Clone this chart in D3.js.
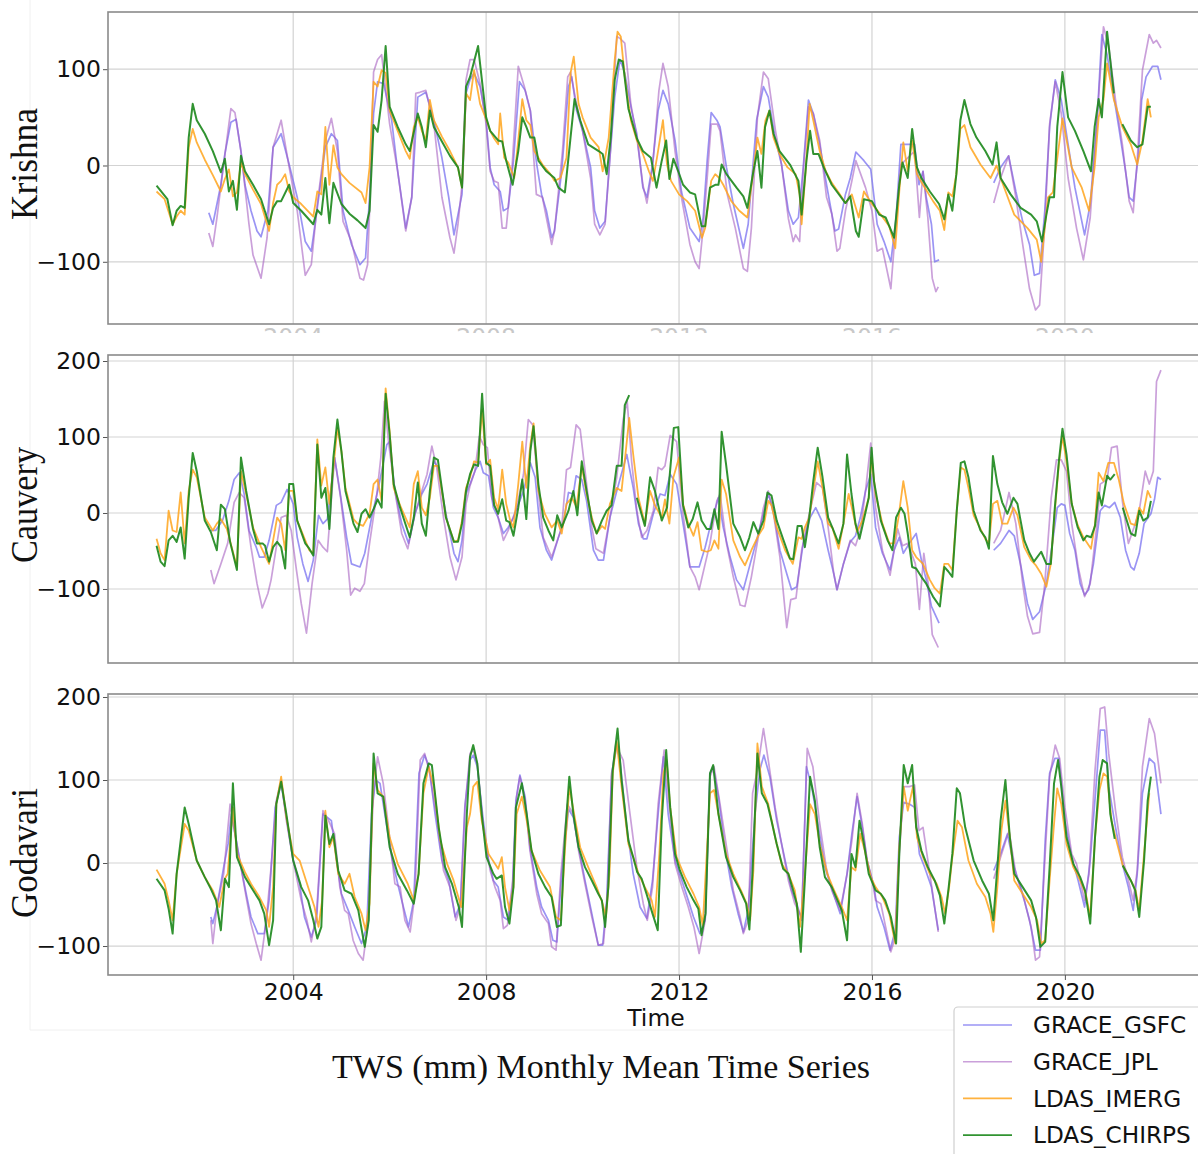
<!DOCTYPE html>
<html><head><meta charset="utf-8">
<script src="https://cdn.jsdelivr.net/npm/d3@7"></script>
<style>body{margin:0;background:#fff}svg{display:block}</style>
</head><body>
<svg id="chart" width="1198" height="1154"></svg>
<script>
// ---- categories / labels ----
const seriesNames = ["GRACE_GSFC", "GRACE_JPL", "LDAS_IMERG", "LDAS_CHIRPS"];
const basinNames = ["Krishna", "Cauvery", "Godavari"];
const xTickYears = [2004, 2008, 2012, 2016, 2020];
const yTicksKrishna = [-100, 0, 100];
const yTicksCauvery = [-100, 0, 100, 200];
const yTicksGodavari = [-100, 0, 100, 200];
const chartTitle = "TWS (mm) Monthly Mean Time Series";
const xAxisLabel = "Time";

// ---- data: [months since Jan 2001, TWS mm]; null marks a data gap ----
const krishnaGSFC = [[15,-49],[16,-61],[18,-20],[19,12],[20.5,45],[21.8,48],[23,15],[24,-20],[25.5,-47],[27,-68],[28,-74],[29.7,-47],[31,19],[33,33],[35,1],[37,-33],[39,-79],[40.5,-89],[42,-44],[44,19],[45.5,33],[47,26],[48.4,-47],[50.5,-82],[52.6,-103],[54,-96],[55,-33],[56,54],[57,87],[58.5,85],[60.5,47],[62,-6],[64,-65],[65.5,-33],[67,71],[69,76],[71,47],[73,8],[74.7,-33],[76,-72],[78,-30],[79,75],
[80,89],[81,96],[82.5,82],[84,47],[85,-2],[86,-20],[87.5,-27],[88.3,-47],[89.5,-44],[90.8,5],[92.3,87],[93.7,78],[95,57],[96.6,1],[97.8,-30],[99,-47],[100.3,-75],[101,-68],[102.8,-6],[104.5,82],[105.3,92],[106.5,57],[108,36],[110,-2],[111,-47],[112.3,-65],[113.6,-58],[114.8,8],[116,71],[117.3,110],[118.5,96],[120.2,57],[121.5,33],[123,-23],[124,-33],[125.4,1],[126.8,57],[128,78],[129.3,64],[131,26],[132.6,-27],[134.7,-65],[137,-79],[138,-54],[139,5],[140,55],[141.4,47],[142.2,40],[143.8,-2],[145.5,-40],[148,-86],[149.2,-61],[151.3,47],[153,82],[154.2,71],[155.9,29],[157.5,1],[159.2,-47],[160.4,-61],[161.7,-54],[162.9,-2],[164.2,68],[165.4,54],[167,22],[168.7,-20],
[170,-50],[170.8,-68],[171.7,-66],[173.4,-30],[174.6,-13],[176,14],[178,5],[179.7,-4],[181.3,-61],[183,-79],[184.7,-100],[186,-54],[187.2,22],[188.5,22],[190.6,22],[191.7,-20],[192.7,-6],[193.5,-33],[194.8,-61],[195.6,-100],[196.7,-98],[203,null],
[210.3,-18],[212,-2],[214,10],[215.8,-27],[217.5,-58],[219.2,-82],[220.4,-114],[221.7,-112],[223,-47],[224.2,40],[225.6,89],[227.1,68],[228.8,22],[230.5,-23],[232.9,-72],[234.3,-40],[236,47],[237.2,136],[238.5,115],[240.2,71],[241.4,40],[243.1,-6],[244,-33],[245,-37],[246.3,12],[247.1,68],[248.2,92],[249.8,103],[251.1,103],[251.9,89]];

const krishnaJPL = [[15,-70],[16,-84],[17,-55],[18.5,-5],[20.5,59],[21.5,55],[23,15],[25,-61],[26,-93],[28,-117],[29.5,-75],[31,19],[33,47],[35,-2],[37,-47],[39,-114],[40.5,-103],[42,-40],[44,26],[45.5,49],[47,15],[48.4,-58],[50.5,-79],[52.6,-117],[53.5,-119],[54.5,-103],[55,-47],[56,97],[57,110],[58,115],[60,43],[62,-6],[64,-68],[65.5,-33],[66.5,75],[67.5,76],[69,78],[71,43],[73,-33],[75,-75],[76,-91],[77,-61],[78,-20],[79,89],
[80,110],[81,110],[82.5,85],[84,43],[85,-6],[86,-16],[87,-18],[88,-65],[89,-65],[90.5,1],[92,103],[93.5,82],[95,57],[96.5,-30],[98,-33],[99.5,-65],[100.3,-82],[101,-68],[103,15],[104.3,92],[105,97],[106.5,64],[108,36],[110,-13],[111,-61],[112.3,-72],[113.6,-61],[115,19],[116.5,134],[117.3,132],[118.5,127],[120,64],[121.5,29],[123,-20],[124,-39],[125.4,-2],[127,78],[128,106],[129.3,82],[131,15],[132.6,-33],[134.7,-82],[136,-100],[137,-107],[138,-65],[139,-13],[140,43],[141.5,43],[142.2,36],[144,-30],[146,-65],[148,-107],[149,-110],[150,-65],[151.5,50],[153,97],[154.2,90],[156,36],[157.5,1],[159.2,-55],[160.4,-79],[161,-72],[162,-79],[162.9,-6],[164.2,61],[165.4,54],[167,26],[168.7,-33],
[170,-50],[171.3,-89],[172,-86],[173.4,-47],[175,-16],[176,5],[178.4,-23],[180,-47],[181.3,-89],[182.6,-86],[184.7,-128],[186,-58],[187.2,1],[188.9,8],[190.6,15],[191.8,-54],[192.7,-6],[193.9,-54],[195,-117],[195.9,-131],[196.5,-126],[203,null],
[210.3,-39],[212,-13],[214,10],[215.8,-33],[217.5,-82],[219.2,-128],[220.7,-150],[221.7,-145],[223,-61],[224.2,43],[225.6,87],[227.1,54],[228.8,-13],[230.9,-65],[232.6,-98],[234.3,-54],[236,47],[237.6,144],[238.9,124],[240.6,68],[242.3,22],[244,-37],[245,-49],[246,5],[247.3,99],[249,136],[250,127],[250.8,130],[251.9,122]];

const krishnaIMERG = [[2,-27],[4,-35],[6,-61],[7,-53],[8,-47],[9,-51],[10,19],[11,38],[12,24],[14,6],[16,-10],[18,-27],[19,-14],[20,-4],[21,-32],[22,-28],[23,3],[24,-9],[26,-25],[28,-40],[30,-68],[31,-39],[32,-20],[33,-16],[34,-9],[35,-27],[36,-33],[38,-40],[41,-53],[42,-27],[43,-30],[44,40],[45,-20],[46,21],[47,-2],[48,-9],[50,-18],[53,-28],[54,-39],[55,-2],[56,87],[57,82],[58,99],[59,96],[60,57],[62,36],[64,15],[65,7],[66,40],[67,50],[68,36],[69,26],[70,68],[71,47],[73,30],[75,15],[77,-2],[78,-23],[79,75],
[80,68],[81,99],[82.5,64],[84,48],[85,36],[86,28],[87,22],[87.5,54],[88.5,8],[89.5,3],[91,-13],[92,26],[93,69],[94,47],[95,42],[96,15],[98,1],[100,-9],[101,-16],[102.5,-13],[104,8],[105,96],[105.8,113],[107,64],[108,50],[110,29],[112,19],[113,-6],[114.5,29],[116,110],[116.7,139],[117.5,134],[118.5,92],[120,47],[121.5,26],[123,12],[124.5,-6],[125.5,-16],[126.5,8],[128,47],[129,1],[130,-16],[132,-30],[134,-37],[136,-47],[137.7,-75],[138.5,-65],[140,-16],[141,-9],[142,-13],[143,-20],[145,-37],[147,-47],[149,-54],[150.5,-6],[151.5,29],[152.5,12],[153.5,47],[154.5,57],[155.5,29],[157,12],[159,-2],[161,-9],[162,-30],[162.5,-61],[163.5,-6],[164.5,64],[165.4,47],[167,15],[168.5,-6],
[170,-18],[171.7,-28],[173.4,-39],[175,-30],[176.7,-54],[178,-27],[180,-40],[182.2,-51],[184.3,-63],[185.8,-86],[186.8,-27],[187.8,24],[188.9,-6],[190,26],[191.2,-9],[192.7,-20],[195.2,-37],[196.9,-47],[198,-67],[199,-28],[200,-32],[201,-9],[202,38],[203,42],[204.5,19],[207,1],[209.5,-13],[211,0],[212,-13],[215.4,-51],[218.7,-65],[221,-77],[222.1,-100],[223.8,-33],[225,-28],[227.4,49],[229.7,-2],[232.2,-23],[234,-47],[235.4,-2],[236.4,50],[237.6,68],[238.5,106],[240.2,68],[242.3,40],[244.4,22],[246,1],[247.3,26],[248.6,69],[249.4,50]];

const krishnaCHIRPS = [[2,-21],[4.7,-35],[6,-62],[7,-47],[8,-42],[9,-44],[10,29],[11,64],[12,47],[14,33],[16,15],[18,-7],[19,7],[20,-27],[21,-16],[22,-46],[23,10],[24,-6],[26,-20],[28,-35],[30,-61],[31,-44],[32,-37],[33,-37],[35,-20],[36,-39],[38,-47],[41,-61],[42,-46],[43,-51],[44,-13],[45,-60],[46,-18],[48,-40],[50,-50],[52,-57],[54,-65],[55,-47],[56,42],[57,35],[58,68],[59,124],[60,61],[62,40],[64,22],[65,15],[67,54],[68,40],[69,19],[70,57],[71,40],[73,25],[75,10],[77,-2],[78,-23],[79,82],
[80,92],[82,124],[84,50],[85,36],[87,26],[88,25],[89,5],[90.6,-20],[92,15],[93,50],[94,40],[95,29],[96,29],[97,5],[99,-6],[101,-13],[102,-23],[103.6,-28],[105,29],[106,69],[107.4,47],[109.4,22],[112,15],[113,12],[114,-9],[115,29],[116,89],[117,110],[118,108],[119.4,59],[121.5,28],[123,15],[125,8],[126.4,-23],[127.7,5],[128.8,26],[129.6,-14],[130.6,7],[131.8,-6],[133,-20],[134.7,-28],[136,-30],[137.6,-63],[138.5,-63],[139.7,-23],[141,-20],[141.8,-20],[142.6,1],[143.8,-9],[146.3,-23],[148,-32],[149,-44],[150.5,-6],[151.5,15],[152.5,-23],[153.4,40],[154.5,57],[155.5,33],[157,15],[159.6,1],[161.7,-16],[162.5,-51],[163.7,5],[164.6,36],[165.4,12],[166.7,12],[168,-2],
[170,-20],[173.4,-39],[174.6,-32],[176,-68],[176.7,-74],[178,-35],[180,-37],[181.8,-51],[183.4,-54],[185.5,-75],[186.8,-20],[187.6,3],[188.9,-13],[190,38],[191.2,-2],[192.3,-13],[194.4,-27],[196.7,-40],[198,-56],[199,-30],[200,-47],[201,-9],[202,47],[203,68],[204.5,43],[206,29],[208.2,15],[210,1],[211,24],[212,-13],[214.5,-30],[217,-44],[219.6,-51],[221,-58],[222.3,-79],[223.4,-51],[224.2,-33],[225.3,-33],[226.1,40],[227.4,97],[228.8,50],[230.5,36],[232.6,15],[234.5,-6],[235.4,40],[236.4,69],[237.2,50],[238.5,139],[240.2,75],[241.3,null],[242.3,43],[244.4,26],[246,19],[247.3,22],[248.6,61],[249.4,61]];

const cauveryGSFC = [[15.5,-23],[16.7,-23],[18.4,-10],[20,16],[21.3,44],[22.6,53],[23.8,25],[25,-23],[26.8,-45],[27.6,-58],[28.8,-58],[30,-36],[31.8,10],[33,14],[34.5,31],[36,12],[37,-32],[38.4,-67],[39.7,-90],[41,-62],[42.3,-3],[43.4,-14],[44.5,-8],[46.3,73],[47.6,29],[49.3,-32],[50.5,-67],[52.6,-71],[53.8,-53],[55.5,-6],[57.2,33],[59.3,90],[60,94],[61.3,29],[63,-14],[64.7,-40],[66.3,-1],[68,25],[69.3,38],[71,68],[72,60],[74,-1],[76,-53],[77,-64],[78,-36],[79,25],
[80,38],[81.2,55],[82.5,68],[83.3,53],[84.6,49],[85.8,7],[87,-6],[88.3,-27],[89.5,-19],[90.8,-6],[93.3,29],[95,66],[96.2,47],[97.4,-19],[99,-49],[100.3,-62],[102,-32],[103.2,-14],[104.5,27],[105.7,25],[106.4,49],[107.8,44],[109,16],[110.7,-49],[111.9,-62],[113.2,-62],[114.8,-6],[116.5,29],[119,77],[120.6,33],[121.9,-14],[123.1,-34],[124,-34],[125.6,-1],[127.3,25],[128.5,23],[129.8,51],[131.4,38],[133,-14],[134.7,-71],[137,-71],[138.5,-45],[140.1,-10],[141.8,20],[143,-19],[144.7,-58],[146.3,-88],[148,-101],[149.7,-67],[151.3,-36],[153,-1],[154.2,25],[155.5,3],[157.1,-49],[158.8,-80],[160,-101],[161.3,-97],[162.9,-40],[164.6,-6],[166,7],[167.5,-10],[169.1,-49],
[170.5,-80],[171.3,-101],[172.9,-67],[174.6,-38],[175.9,-30],[177.1,-6],[178.4,29],[179.7,51],[180.9,-19],[182.6,-53],[184.5,-75],[185.5,-49],[186.8,-32],[187.8,-53],[189.3,-40],[191,-27],[192.3,-62],[193.5,-88],[194.8,-123],[196.7,-145],[203,null],
[210.3,-49],[212,-40],[214.1,-23],[215.4,-30],[217.1,-71],[218.7,-119],[220,-140],[221.7,-130],[223.4,-93],[225,-36],[226.1,7],[227.1,12],[228,10],[229.2,-27],[230.5,-49],[231.8,-93],[232.9,-108],[233.9,-101],[235.1,-67],[236.8,3],[237.9,10],[239.1,7],[240.4,14],[241.8,-6],[243.1,-49],[244.4,-71],[245.2,-75],[246.5,-53],[247.7,-14],[249.4,-1],[250.3,18],[251.1,47],[251.9,44]];

const cauveryJPL = [[15.5,-75],[16.3,-93],[18,-67],[19.7,-40],[21.3,14],[22.6,27],[23.8,20],[25.5,-45],[27,-93],[28.3,-125],[29.7,-106],[30.5,-88],[31.8,-45],[33,-6],[34.3,-3],[35.5,-23],[36.8,-75],[38,-119],[39.3,-158],[40.7,-93],[42.2,-36],[43.4,-45],[44.5,-51],[46.3,73],[47.8,20],[49.3,-49],[50.3,-108],[51.3,-99],[52.6,-103],[53.7,-93],[55,-40],[56.8,25],[57.8,73],[58.7,147],[59.8,90],[61.3,29],[63,-27],[64.5,-47],[66.3,-1],[68,29],[69.3,51],[70.5,88],[71.7,60],[73.4,-6],[75,-58],[76.5,-88],[78,-58],[79,12],
[80,36],[81.2,55],[82.3,101],[83.3,90],[84.3,86],[85.4,20],[86.6,3],[88.3,-36],[89.5,-23],[91.6,7],[93.3,51],[94.5,123],[95.6,116],[97,29],[98.2,-32],[100.3,-58],[102,-32],[102.8,-19],[104,57],[105,60],[106.4,116],[107.4,110],[109,38],[110.3,-19],[111.3,-47],[113.2,-53],[114.8,-6],[116.5,47],[118.1,123],[119.1,147],[120.2,68],[121.5,3],[122.7,-32],[124,-23],[125.6,3],[126.8,60],[127.7,57],[128.5,62],[129.8,102],[131.4,94],[133,-1],[134.7,-71],[136,-84],[137,-101],[138.5,-67],[139.7,-40],[141.4,16],[142.2,25],[143.8,-40],[145.5,-84],[147.2,-121],[148.4,-123],[150,-84],[151.7,-32],[153,7],[154.2,29],[155.5,-1],[157.1,-58],[158.8,-151],[159.8,-114],[161.1,-112],[162.5,-49],[164.2,-6],[166.2,40],[167.7,33],[169.1,-19],
[170.5,-80],[171.3,-101],[172.9,-67],[174.6,-36],[175.9,-43],[177.1,-23],[178.4,29],[179.7,92],[180.9,7],[182.6,-49],[184.5,-82],[186.4,-21],[187.6,-43],[188.9,-40],[190.8,-67],[191.8,-127],[192.9,-53],[194,-93],[195,-160],[196.5,-177],[203,null],
[210.3,-40],[212,-23],[213.3,7],[214.1,27],[215.8,-14],[217.5,-93],[218.7,-136],[220,-159],[221.7,-157],[223,-93],[224.6,20],[225.9,70],[227.1,70],[228.4,55],[229.7,-14],[231.3,-71],[232.9,-110],[234.3,-93],[236,-14],[236.8,38],[238.5,44],[239.6,86],[241,88],[242.3,16],[243.8,-40],[245.2,-19],[246.5,3],[248,55],[249,38],[250,55],[250.8,173],[251.9,188]];

const cauveryIMERG = [[2,-34],[3,-53],[4,-62],[5,3],[6,-23],[7,-25],[8,27],[9,-40],[10,29],[11,57],[12,47],[14,-6],[16,-23],[17,-14],[18,-8],[19.5,-21],[22,-71],[23,55],[24.3,25],[26,-19],[28,-45],[30,-67],[31,-36],[32,-6],[33,-14],[34,-49],[35,29],[36,29],[37,-10],[39,-36],[40,-49],[41,-53],[42,97],[43,36],[44,60],[45,12],[46,60],[47,112],[48,81],[49,33],[51,-8],[52,-14],[53.4,-17],[55,-1],[56,38],[57,44],[58,16],[59,164],[60,107],[61,33],[62.6,10],[65,-19],[66,38],[67,55],[68,7],[69,-3],[70,20],[71,62],[72,62],[74,-6],[76,-38],[77,-36],[78,-10],[79,33],
[80,47],[81,68],[82,66],[83,136],[84,64],[85,70],[86,20],[87,5],[88,57],[89,12],[90,-10],[90.8,-19],[92,38],[93,94],[94,33],[95,90],[95.8,118],[97,29],[98.6,-1],[100.3,-19],[101.7,-10],[102.8,-27],[104,12],[105.3,20],[106.5,8],[107.8,62],[109,25],[110.3,-6],[111.5,-27],[112.8,-17],[113.6,-21],[114.8,12],[116.5,33],[117.7,29],[119,94],[119.6,125],[120.6,77],[121.9,20],[123.5,-14],[124.8,29],[126,10],[127.7,-6],[128.5,18],[129.6,-14],[130.6,47],[132,73],[133,12],[134.3,-14],[135.6,-30],[136.6,-12],[137.6,-49],[138.9,-51],[139.9,-49],[140.8,-36],[141.8,-47],[142.6,44],[143.7,25],[145.5,-36],[147.2,-58],[148.4,-69],[150,-49],[151.7,-30],[153,-19],[154.2,16],[155,10],[156.3,-19],[158.4,-49],[160.3,-67],[161.7,-32],[162.5,-34],[163.3,-19],[164.4,-6],[165.4,29],[166.5,68],[167.7,33],[169.1,-14],
[170.2,-20],[171.7,-47],[172.9,-14],[174.2,25],[175,7],[176.3,-25],[177.6,-10],[179.2,20],[179.9,73],[180.9,25],[182.6,-14],[184.3,-40],[185.5,-40],[186.6,-6],[187.8,42],[188.9,7],[190,-49],[191,-58],[192.7,-67],[194.4,-88],[195.6,-99],[196.9,-106],[198,-67],[199,-67],[200,-75],[201.1,3],[202.1,60],[203,57],[204,33],[205.3,-3],[207,-21],[208.2,-34],[209.1,-40],[210.1,12],[211.2,16],[212.4,-14],[213.7,-14],[215.2,7],[216.2,-3],[217.9,-45],[219.6,-62],[220.8,-69],[222.1,-80],[223.4,-97],[224.5,-67],[225.5,3],[226.5,64],[227.4,101],[228.4,68],[229.7,12],[231.2,-16],[232.6,-32],[234.5,-47],[235.5,-14],[236.4,53],[237.6,42],[238.8,66],[240.2,66],[241.4,44],[242.7,12],[244.4,-14],[245.5,-16],[246.5,7],[247.5,-1],[248.6,29],[249.4,20]];

const cauveryCHIRPS = [[2,-43],[3,-64],[4,-70],[5,-36],[6,-30],[7,-38],[8,-19],[9,-60],[10,20],[11,79],[12,55],[14,-10],[15.5,-25],[17,-49],[18,11],[19,5],[20.3,-38],[22,-75],[23,73],[24.3,29],[26,-21],[27,-40],[28.4,-40],[29,-43],[30,-64],[31,-45],[32,-38],[33,-45],[34,-73],[35,38],[36,38],[37,-10],[39,-40],[40,-47],[41,-56],[42,90],[43,20],[44,33],[45,-21],[46,73],[47,123],[48,81],[49,29],[51,-14],[52,-25],[53,-1],[54,5],[55,-6],[56,5],[57,18],[58,7],[59,157],[60,103],[61,38],[62.6,7],[65,-32],[66,-6],[67,40],[68,-14],[69,-30],[70,29],[71,73],[72,70],[74,-6],[76,-38],[77,-38],[78,-14],[79,29],
[80,51],[81,64],[82,62],[83,157],[84,66],[85,62],[86,10],[87,-1],[88,18],[89,-10],[89.8,-12],[90.8,-30],[92,7],[93,44],[94,-8],[95,81],[95.8,114],[97,38],[98.2,-6],[99.5,-23],[100.7,-36],[101.7,-3],[102.8,-19],[104.5,3],[105.7,29],[106.7,-3],[107.8,68],[109,29],[110.3,-10],[111.5,-27],[112.8,-10],[114,3],[115.2,10],[116.5,62],[117.7,62],[118.5,142],[119.6,155],[120.5,null],[121.5,20],[123.5,-17],[124.8,47],[126,29],[127.7,-10],[129,7],[129.8,57],[130.7,112],[131.8,113],[133,10],[134.3,-19],[135.4,-8],[136.6,14],[137.6,-10],[138.9,-21],[139.9,-21],[140.8,5],[141.8,-21],[142.6,107],[143.7,64],[145.5,-14],[147.2,-32],[148.4,-49],[149.5,-32],[150.5,-12],[151.7,-27],[153,-10],[154,27],[155,23],[156.3,-10],[158,-36],[159.6,-60],[160.4,-61],[161.5,-17],[162.5,-17],[163.3,-45],[164.4,-6],[165.4,42],[166.5,86],[167.7,47],[169.1,-6],
[170.2,-20],[171.7,-40],[172.9,-14],[173.8,77],[174.9,25],[175.9,-14],[176.9,-34],[178.4,1],[179.2,20],[179.9,86],[180.5,42],[182.2,-10],[183.9,-36],[185.1,-49],[186,-6],[187.2,7],[188.1,-1],[188.9,-27],[190,-71],[191,-73],[192.3,-84],[193.5,-93],[195.2,-110],[196.9,-123],[198,-71],[199,-77],[200,-84],[201.1,3],[202.1,66],[203,68],[204,47],[205.3,3],[207,-23],[208.2,-32],[209.1,-47],[210.1,75],[211.2,38],[212.4,14],[213.7,-1],[215.2,20],[216.2,12],[217.9,-36],[219.2,-53],[220.3,-64],[222.1,-51],[223.4,-67],[224.5,-67],[225.5,7],[226.5,68],[227.4,111],[228.4,77],[229.7,12],[231.2,-19],[232.6,-36],[233.4,-30],[234.5,-32],[235.5,-17],[236.4,27],[237.2,10],[238.5,49],[239.3,44],[240.4,51],[241.4,null],[242.4,7],[244.4,-27],[245.5,-30],[246.5,3],[247.5,-10],[248.6,-6],[249.4,16]];

const godavariGSFC = [[15.5,-65],[16,-73],[17,-53],[18.7,-5],[19.8,23],[20.6,59],[21.7,31],[23,-5],[24.3,-37],[25.5,-65],[27.2,-85],[28.8,-85],[30,-45],[31.5,67],[33,96],[34.3,55],[36,3],[37.6,-25],[38.8,-65],[40.5,-89],[41.8,-69],[43.4,59],[44.5,55],[45.5,51],[46.8,3],[48,-37],[49.7,-57],[51.3,-77],[53,-97],[54.3,-77],[55.5,59],[56.5,100],[57.6,96],[58.8,59],[60.5,7],[62,-25],[63,-45],[64.7,-77],[66,-45],[67.3,108],[68.7,130],[69.8,116],[71.3,59],[73,3],[74.7,-21],[76.3,-65],[77.6,-49],[78.7,67],
[80,124],[80.8,130],[81.8,116],[83.3,51],[84.6,3],[85.8,-21],[87,-29],[88.3,-65],[89.5,-69],[90.6,-29],[91.4,75],[92.4,106],[93.7,80],[94.9,19],[96.6,-29],[97.8,-53],[99.5,-69],[100.6,-93],[101.6,-95],[102.8,-13],[104.5,65],[105.7,55],[107,19],[108.6,-21],[110.3,-61],[111.9,-99],[113,-99],[114,-45],[115.2,104],[116.3,144],[117.3,124],[119,43],[120.6,-13],[122.3,-53],[124,-67],[125.4,-21],[126.8,59],[128.1,128],[129.3,59],[131,3],[132.7,-21],[134.3,-45],[135.6,-65],[137.2,-85],[138.5,-69],[139.7,108],[140.5,116],[141.8,80],[143.4,19],[145.1,-29],[146.7,-61],[148,-83],[149.2,-57],[150.9,59],[152.1,112],[153.1,130],[154.6,104],[156.3,51],[158.4,3],[160,-33],[161.3,-49],[162.5,-69],[163.7,116],[165,92],[166.7,43],[168.3,-5],
[170,-31],[172.1,-61],[173.8,-13],[175,35],[176.3,80],[177.6,43],[178.8,3],[180.5,-29],[181.3,-53],[183,-77],[184.5,-105],[185.8,-81],[186.8,31],[187.9,73],[189.3,71],[190.6,67],[191.8,11],[193.1,-5],[194.8,-29],[196.5,-81],[203,null],
[210.3,-9],[212,11],[213.7,35],[215.4,-5],[217.5,-37],[219.2,-69],[220.7,-105],[221.9,-105],[223.1,27],[224.2,108],[225.5,126],[226.5,126],[228,51],[229.7,7],[231.3,-21],[232.9,-53],[234.3,3],[236,108],[236.8,160],[237.9,160],[238.9,92],[240.6,43],[242.3,-1],[243.8,-29],[245,-57],[246,-13],[247.3,84],[249,126],[250.3,120],[251.9,59]];

const godavariJPL = [[15.5,-69],[16,-97],[17,-53],[18.7,-13],[20.3,71],[21.5,35],[23,-5],[24.3,-41],[25.5,-73],[26.8,-97],[28,-117],[29.3,-69],[30.5,-5],[31.8,75],[33,100],[34.3,51],[36,3],[38,-45],[39.4,-69],[40.5,-95],[41.8,-61],[43.4,63],[44.8,51],[46.3,35],[47.6,-29],[48.8,-57],[49.7,-61],[50.9,-93],[52.2,-109],[53.4,-117],[54.7,-69],[55.9,80],[57,128],[58.4,96],[59.7,43],[61.3,-25],[62.6,-29],[63.8,-69],[65.1,-83],[66.3,-37],[67.6,124],[68.7,132],[70,108],[71.8,51],[73.4,-9],[75,-29],[76.5,-69],[77.6,-53],[78.8,71],
[80,132],[80.8,136],[81.8,120],[83.3,43],[85,-9],[86.2,-29],[87.5,-45],[88.3,-79],[89.3,-75],[90.6,-21],[91.6,80],[92.4,104],[93.7,76],[94.9,15],[96.6,-37],[97.8,-61],[99.5,-73],[100.3,-101],[101.4,-105],[102.6,-13],[104.2,71],[105.7,59],[107,15],[108.6,-25],[110.3,-65],[111.9,-99],[113.2,-97],[114.2,-37],[115.2,108],[116.5,140],[118.1,124],[119.8,59],[121.5,-5],[123.1,-49],[124.1,-69],[125.4,-29],[126.8,71],[128.3,136],[129.6,67],[131,-1],[132.7,-29],[134.3,-53],[135.7,-77],[137,-109],[138.5,-69],[139.7,104],[140.7,116],[142.2,71],[143.7,23],[145.5,-33],[147.2,-65],[148,-85],[149.2,-69],[150.3,84],[151.5,112],[153,162],[154.2,124],[155.9,67],[157.5,23],[159.2,-21],[160.8,-49],[162.5,-65],[163.9,138],[165.3,116],[166.9,51],[168.6,-5],
[170,-33],[172.1,-57],[173.8,-13],[175,27],[176.3,84],[177.6,47],[178.8,3],[180.1,-21],[180.9,-45],[182.2,-49],[183.4,-77],[184.7,-107],[185.8,-89],[186.8,11],[187.9,92],[189.3,92],[190.6,94],[191.7,39],[192.7,43],[194.4,-13],[195.6,-53],[196.5,-83],[203,null],
[210.3,-19],[212,7],[214.1,39],[215.8,-13],[217.9,-45],[219.6,-77],[220.7,-117],[221.7,-113],[223.1,11],[224.2,104],[225.6,142],[226.7,126],[228,67],[229.7,11],[230.9,-1],[232.9,-45],[234,-13],[235.5,112],[236.8,186],[237.9,188],[238.9,132],[240.6,63],[242.3,7],[243.8,-21],[245,-45],[246,-9],[247.3,116],[249,174],[250.3,156],[251.9,96]];

const godavariIMERG = [[2,-8],[4,-25],[5,-45],[6,-69],[7,-13],[9,47],[10,39],[12,3],[14,-17],[16,-33],[17.6,-53],[19,-19],[19.7,-13],[21,67],[22,11],[24,-11],[25.5,-25],[27.6,-41],[29.3,-57],[30,-77],[31,-29],[31.8,71],[33,104],[34.3,55],[36,11],[37.6,3],[39.7,-29],[41.3,-53],[42.3,-77],[43.2,-45],[44,63],[45,19],[46,31],[47.2,-13],[48.8,-25],[50,-13],[51.3,-41],[53,-61],[54,-81],[55,-49],[56,120],[57,88],[58.4,80],[60,31],[62,-1],[64.5,-25],[66,-45],[67.2,-13],[68.4,84],[69.7,116],[71,92],[72.6,27],[74.3,-1],[75.9,-21],[77.8,-53],[79.2,43],
[80,59],[80.8,92],[81.8,98],[82.9,51],[84.6,11],[86.2,-1],[87,-7],[87.9,7],[88.7,-29],[89.8,-57],[90.8,-29],[91.6,59],[92.9,80],[94.1,51],[95.3,15],[97.4,-9],[99.9,-29],[101.4,-65],[102.6,-69],[103.6,15],[104.7,92],[105.9,59],[107.4,19],[109.4,-5],[111.5,-29],[113,-49],[113.8,-65],[114.7,-13],[115.5,108],[116.5,146],[117.7,92],[119.4,23],[120.6,7],[121.9,-13],[123.5,-29],[125.2,-45],[126,-65],[127.1,11],[128.1,108],[128.9,124],[129.8,67],[131.4,7],[133.5,-17],[135.6,-37],[137,-53],[137.9,-75],[138.9,11],[139.7,84],[140.7,88],[141.8,59],[143.7,11],[145.5,-13],[147.6,-35],[148.8,-49],[149.7,-69],[150.5,-9],[151.5,144],[152.6,92],[154.2,71],[155.9,31],[157.5,-1],[159.2,-13],[160.8,-33],[162.1,-77],[163.3,-13],[164.6,71],[165.8,59],[167,23],[168.9,-13],
[170.4,-31],[172.5,-53],[173.8,-69],[174.9,-5],[175.9,-9],[177.1,35],[178.2,15],[179.7,-17],[180.9,-29],[182.6,-41],[184.3,-61],[185.8,-97],[186.8,19],[187.9,92],[188.9,63],[190.2,92],[191.2,31],[192.7,7],[194.4,-13],[196.1,-25],[197.3,-41],[198.2,-61],[199.2,-29],[200,7],[201.3,51],[202.4,43],[204,3],[206.1,-25],[208.2,-41],[209.5,-61],[210.2,-83],[211.2,-29],[212.2,39],[213.2,75],[214.3,31],[215.4,-21],[217.5,-37],[219.6,-53],[221.1,-69],[222.1,-97],[223.1,-93],[224.2,-21],[225.3,47],[226.1,90],[227.1,71],[228.4,23],[230.1,-5],[231.8,-21],[233.2,-37],[234.3,-65],[235.5,31],[236.6,88],[237.6,108],[238.5,104],[239.6,51],[240.6,31],[242.4,-3],[244.4,-21],[245.6,-33],[246.5,-57],[247.7,11],[249,84]];

const godavariCHIRPS = [[2,-19],[4,-33],[5,-55],[6,-85],[7,-13],[9,67],[10,47],[12,3],[14,-17],[15.5,-31],[16.8,-45],[18,-81],[19,-19],[20,-29],[21,96],[22,7],[24,-17],[25.5,-29],[27.6,-45],[28.8,-61],[30,-99],[31,-69],[31.8,71],[33,98],[34.3,59],[36,3],[38,-29],[39.7,-45],[41,-69],[42,-91],[43,-77],[44,57],[45,23],[46,35],[47.2,-9],[48.8,-33],[50.5,-37],[52.2,-57],[53.8,-101],[54.8,-69],[56,132],[57,84],[58.4,80],[60,19],[62,-13],[64.3,-33],[66,-49],[67.2,-13],[68.4,96],[69.7,120],[70.5,118],[72.2,43],[73.8,-5],[75.5,-25],[77.2,-53],[78,-77],[79.2,59],
[80,128],[80.8,142],[81.8,120],[82.9,59],[84.1,7],[85.8,-13],[86.6,-19],[87.9,-15],[88.7,-53],[89.8,-73],[90.8,-29],[91.4,67],[92.9,96],[94.1,59],[95.3,15],[97,-13],[98.7,-29],[100.3,-41],[101.6,-77],[102.6,-75],[103.6,31],[104.7,104],[105.7,59],[107,19],[108.6,-5],[110.3,-21],[111.9,-37],[112.8,-45],[113.6,-77],[114.4,-29],[115.5,112],[116.7,162],[117.7,100],[119.4,27],[120.6,7],[121.6,-11],[122.7,-19],[123.9,-37],[125.4,-61],[126.7,-81],[127.7,51],[128.8,136],[129.8,67],[131,11],[132.2,-9],[133.9,-29],[135.6,-45],[136.8,-55],[137.6,-87],[138.6,-61],[139.7,108],[140.5,118],[141.8,59],[143.7,7],[145.5,-17],[147.2,-33],[148.7,-49],[149.5,-80],[150.3,-9],[151.5,132],[152.6,84],[154,71],[155,51],[156.3,23],[157.9,-7],[159.2,-13],[160.4,-33],[161.3,-49],[162.3,-107],[163.3,-21],[164.6,104],[165.8,75],[167,19],[168.3,-17],
[170,-29],[172.5,-57],[173.8,-93],[174.9,11],[175.9,-5],[176.9,51],[178,23],[179.2,-13],[180.9,-33],[182.2,-37],[183.3,-45],[184.7,-65],[186,-97],[186.8,11],[187.9,118],[188.9,96],[190,118],[191,43],[192.3,15],[193.9,-5],[195.6,-21],[196.9,-39],[198,-73],[199,-33],[200,11],[201.1,90],[201.9,84],[203.2,43],[205.3,3],[207.4,-21],[209.1,-37],[210.2,-69],[211.2,-5],[212,51],[213.2,100],[214.3,31],[215.4,-13],[217.5,-29],[219.6,-45],[220.8,-65],[221.9,-101],[223.1,-95],[224.2,-5],[225.3,96],[226.3,124],[227.1,92],[228.4,31],[230.1,-1],[231.8,-17],[233,-33],[234.3,-73],[235.5,31],[236.6,104],[237.4,124],[238.5,120],[239.3,59],[240.4,29],[241.4,null],[242.4,-3],[244.4,-21],[245.5,-33],[246.5,-65],[247.7,3],[248.6,75],[249.4,104]];

// ---- table built from the arrays above ----
const basinData = [
  [krishnaGSFC, krishnaJPL, krishnaIMERG, krishnaCHIRPS],
  [cauveryGSFC, cauveryJPL, cauveryIMERG, cauveryCHIRPS],
  [godavariGSFC, godavariJPL, godavariIMERG, godavariCHIRPS]
];
const basinTicks = [yTicksKrishna, yTicksCauvery, yTicksGodavari];

// ---- styles / layout ----
const seriesColors = ["#6f66f0", "#a45cbf", "#ffa41c", "#1f8a1f"];
const seriesOpacity = [0.7, 0.58, 0.85, 0.92];
const seriesWidth = [1.7, 1.7, 1.8, 2.0];
const panels = [
  {top: 12, bottom: 324, yDomain: [-164.6, 159.4], labelY: 164, labelLen: 112},
  {top: 355, bottom: 663, yDomain: [-197.4, 207.9], labelY: 505, labelLen: 116},
  {top: 694, bottom: 975, yDomain: [-134.9, 203.6], labelY: 853, labelLen: 130}
];
const plotLeft = 108, plotRight = 1198;
const tickFont = "'DejaVu Sans', sans-serif";
const tickSize = 23.5;

const svg = d3.select("#chart");
svg.append("rect").attr("width", 1198).attr("height", 1154).attr("fill", "#fff");
svg.append("line").attr("x1", 30).attr("x2", 30).attr("y1", 0).attr("y2", 1030).attr("stroke", "#f0f0f0");
svg.append("line").attr("x1", 30).attr("x2", 955).attr("y1", 1030).attr("y2", 1030).attr("stroke", "#f0f0f0");

const x = d3.scaleLinear().domain([2000.16, 2022.76]).range([plotLeft, plotRight]);
const monthToYear = m => 2001 + m / 12;

panels.forEach((p, i) => {
  const y = d3.scaleLinear().domain(p.yDomain).range([p.bottom, p.top]);
  const g = svg.append("g");
  const clipId = "clip" + i;
  svg.append("clipPath").attr("id", clipId).append("rect")
    .attr("x", plotLeft).attr("y", p.top).attr("width", plotRight - plotLeft).attr("height", p.bottom - p.top);

  g.append("g").selectAll("line").data(xTickYears).join("line")
    .attr("x1", d => x(d)).attr("x2", d => x(d)).attr("y1", p.top).attr("y2", p.bottom)
    .attr("stroke", "#d3d3d3").attr("stroke-width", 1.2);
  g.append("g").selectAll("line").data(basinTicks[i]).join("line")
    .attr("x1", plotLeft).attr("x2", plotRight).attr("y1", d => y(d)).attr("y2", d => y(d))
    .attr("stroke", "#d3d3d3").attr("stroke-width", 1.2);

  const yAxis = d3.axisLeft(y).tickValues(basinTicks[i]).tickSize(5).tickPadding(2)
    .tickFormat(d => d < 0 ? "\u2212" + Math.abs(d) : String(d));
  const ya = g.append("g").attr("transform", `translate(${plotLeft},0)`).call(yAxis);
  ya.select(".domain").remove();
  ya.selectAll("line").attr("stroke", "#555");
  ya.selectAll("text").attr("font-family", tickFont).attr("font-size", tickSize).attr("fill", "#111");

  const line = d3.line()
    .defined(d => d[1] !== null)
    .x(d => x(monthToYear(d[0])))
    .y(d => y(d[1]));
  const lg = g.append("g").attr("clip-path", `url(#${clipId})`);
  basinData[i].forEach((series, k) => {
    lg.append("path").datum(series).attr("d", line)
      .attr("fill", "none").attr("stroke", seriesColors[k])
      .attr("stroke-opacity", seriesOpacity[k]).attr("stroke-width", seriesWidth[k])
      .attr("stroke-linejoin", "round");
  });

  g.append("rect").attr("x", plotLeft).attr("y", p.top)
    .attr("width", plotRight - plotLeft + 4).attr("height", p.bottom - p.top)
    .attr("fill", "none").attr("stroke", "#8a8a8a").attr("stroke-width", 1.6);

  svg.append("text").attr("transform", `translate(37,${p.labelY}) rotate(-90)`)
    .attr("text-anchor", "middle").attr("font-family", "'Liberation Serif', serif")
    .attr("font-size", 38).attr("fill", "#111")
    .attr("textLength", p.labelLen).attr("lengthAdjust", "spacingAndGlyphs")
    .text(basinNames[i]);
});

// faint clipped tick labels under the first panel
svg.append("clipPath").attr("id", "clipHidden").append("rect")
  .attr("x", 100).attr("y", 327).attr("width", 1100).attr("height", 6);
svg.append("g").attr("clip-path", "url(#clipHidden)").selectAll("text").data(xTickYears).join("text")
  .attr("x", d => x(d)).attr("y", 345).attr("text-anchor", "middle")
  .attr("font-family", tickFont).attr("font-size", tickSize).attr("fill", "#c8c8c8").text(d => d);

const xAxis = d3.axisBottom(x).tickValues(xTickYears).tickSize(5).tickPadding(3).tickFormat(d3.format("d"));
const xa = svg.append("g").attr("transform", `translate(0,${panels[2].bottom})`).call(xAxis);
xa.select(".domain").remove();
xa.selectAll("line").attr("stroke", "#555");
xa.selectAll("text").attr("font-family", tickFont).attr("font-size", tickSize).attr("fill", "#111");

svg.append("text").attr("x", 656).attr("y", 1026).attr("text-anchor", "middle")
  .attr("font-family", tickFont).attr("font-size", tickSize).attr("fill", "#111").text(xAxisLabel);

svg.append("text").attr("x", 601).attr("y", 1078).attr("text-anchor", "middle")
  .attr("font-family", "'Liberation Serif', serif").attr("font-size", 33).attr("fill", "#111")
  .attr("textLength", 538).attr("lengthAdjust", "spacingAndGlyphs").text(chartTitle);

const lgd = svg.append("g");
lgd.append("rect").attr("x", 954).attr("y", 1007).attr("width", 250).attr("height", 160).attr("rx", 4)
  .attr("fill", "#fff").attr("stroke", "#cfcfcf").attr("stroke-width", 1.2);
seriesNames.forEach((name, k) => {
  const yy = 1025 + k * 36.7;
  lgd.append("line").attr("x1", 963).attr("x2", 1012).attr("y1", yy).attr("y2", yy)
    .attr("stroke", seriesColors[k]).attr("stroke-opacity", seriesOpacity[k]).attr("stroke-width", 1.6);
  lgd.append("text").attr("x", 1033).attr("y", yy).attr("dy", "0.35em")
    .attr("font-family", tickFont).attr("font-size", 23.2).attr("fill", "#111").text(name);
});
</script>
</body></html>
